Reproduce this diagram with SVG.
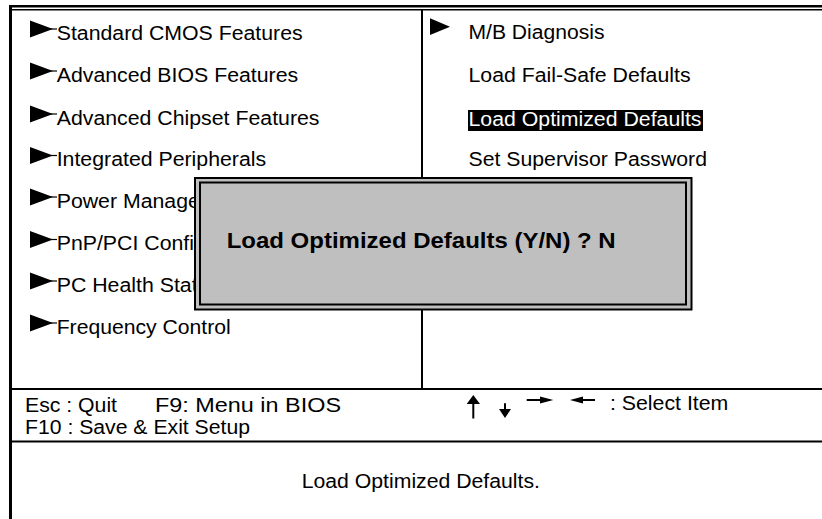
<svg xmlns="http://www.w3.org/2000/svg" width="822" height="519" viewBox="0 0 822 519">
<style>
  text { font-family: "Liberation Sans", Arial, sans-serif; fill: #000; }
  .item { font-size: 19.5px; }
  .foot { font-size: 19.5px; }
  .rule { stroke: #000; fill: none; }
  .tri { fill: #000; }
  .tail { stroke: #000; stroke-width: 1.2; }
  .shaft { stroke: #000; stroke-width: 2; }
</style>
<defs>
  <g id="bullet">
    <path class="tri" d="M0,-8.5 L0,8.5 L23,0 Z"/>
    <line class="tail" x1="20" y1="0" x2="27" y2="0"/>
  </g>
</defs>
<rect x="0" y="0" width="822" height="519" fill="#fff"/>

<g id="frame">
  <line class="rule" x1="9" y1="6.2" x2="822" y2="6.2" stroke-width="2.5"/>
  <line class="rule" x1="9" y1="9.8" x2="822" y2="9.8" stroke-width="1.4"/>
  <line class="rule" x1="10.5" y1="5" x2="10.5" y2="519" stroke-width="3"/>
  <line class="rule" x1="422" y1="10" x2="422" y2="389" stroke-width="2"/>
  <line class="rule" x1="10" y1="389" x2="822" y2="389" stroke-width="2"/>
  <line class="rule" x1="10" y1="441.5" x2="822" y2="441.5" stroke-width="1.8"/>
</g>

<g id="left-menu">
  <g id="item-standard-cmos"><use href="#bullet" x="30" y="29"/><text class="item" x="56.7" y="39.5" textLength="246" lengthAdjust="spacingAndGlyphs">Standard CMOS Features</text></g>
  <g id="item-advanced-bios"><use href="#bullet" x="30" y="71"/><text class="item" x="56.7" y="81.5" textLength="241.5" lengthAdjust="spacingAndGlyphs">Advanced BIOS Features</text></g>
  <g id="item-advanced-chipset"><use href="#bullet" x="30" y="114"/><text class="item" x="56.7" y="124.5" textLength="262.8" lengthAdjust="spacingAndGlyphs">Advanced Chipset Features</text></g>
  <g id="item-integrated"><use href="#bullet" x="30" y="155.5"/><text class="item" x="56.7" y="166" textLength="209.5" lengthAdjust="spacingAndGlyphs">Integrated Peripherals</text></g>
  <g id="item-power"><use href="#bullet" x="30" y="197"/><text class="item" x="56.7" y="207.5" textLength="143.2" lengthAdjust="spacingAndGlyphs">Power Manage</text></g>
  <g id="item-pnp"><use href="#bullet" x="30" y="239.5"/><text class="item" x="56.7" y="250" textLength="137.3" lengthAdjust="spacingAndGlyphs">PnP/PCI Confi</text></g>
  <g id="item-pc-health"><use href="#bullet" x="30" y="281"/><text class="item" x="56.7" y="291.5" textLength="140.9" lengthAdjust="spacingAndGlyphs">PC Health Stat</text></g>
  <g id="item-frequency"><use href="#bullet" x="30" y="323"/><text class="item" x="56.7" y="333.5" textLength="174" lengthAdjust="spacingAndGlyphs">Frequency Control</text></g>
</g>

<g id="right-menu">
  <g id="item-mb-diagnosis"><path class="tri" d="M430,18.3 L430,35 L450,26.7 Z"/><text class="item" x="468.5" y="38.5" textLength="136" lengthAdjust="spacingAndGlyphs">M/B Diagnosis</text></g>
  <g id="item-failsafe"><text class="item" x="468.5" y="81.8" textLength="222" lengthAdjust="spacingAndGlyphs">Load Fail-Safe Defaults</text></g>
  <g id="item-optimized"><rect x="468" y="110" width="235" height="21" fill="#000"/><text class="item" x="468.5" y="125.5" textLength="233" lengthAdjust="spacingAndGlyphs" style="fill:#fff">Load Optimized Defaults</text></g>
  <g id="item-supervisor"><text class="item" x="468.5" y="166" textLength="238.5" lengthAdjust="spacingAndGlyphs">Set Supervisor Password</text></g>
</g>

<g id="dialog">
  <rect x="195" y="178" width="496.5" height="131.5" fill="#bfbfbf" stroke="#000" stroke-width="2"/>
  <rect x="200" y="182.5" width="486" height="122" fill="none" stroke="#000" stroke-width="2"/>
  <text x="226.7" y="248.3" font-size="22" font-weight="bold" textLength="389" lengthAdjust="spacingAndGlyphs">Load Optimized Defaults (Y/N) ? N</text>
</g>

<g id="help-bar">
  <text class="foot" x="25" y="411.7" textLength="92" lengthAdjust="spacingAndGlyphs">Esc : Quit</text>
  <text class="foot" x="155" y="411.7" textLength="186" lengthAdjust="spacingAndGlyphs">F9: Menu in BIOS</text>
  <text class="foot" x="25" y="434" textLength="225" lengthAdjust="spacingAndGlyphs">F10 : Save &amp; Exit Setup</text>
  <g id="arrows">
    <line class="shaft" x1="473.3" y1="402" x2="473.3" y2="418.5"/>
    <path class="tri" d="M466.7,404 L473.3,395 L480,404 Z"/>
    <line class="shaft" x1="505" y1="403.3" x2="505" y2="410"/>
    <path class="tri" d="M499,409 L505,418 L511,409 Z"/>
    <line class="shaft" x1="526.7" y1="400" x2="542" y2="400"/>
    <path class="tri" d="M540,396.5 L553.3,400 L540,403.5 Z"/>
    <line class="shaft" x1="581" y1="400" x2="595" y2="400"/>
    <path class="tri" d="M583,396.5 L570,400 L583,403.5 Z"/>
  </g>
  <text class="foot" x="610" y="409.5" textLength="118.3" lengthAdjust="spacingAndGlyphs">: Select Item</text>
</g>

<g id="status">
  <text class="foot" x="301.7" y="488.3" textLength="238.3" lengthAdjust="spacingAndGlyphs">Load Optimized Defaults.</text>
</g>
</svg>
